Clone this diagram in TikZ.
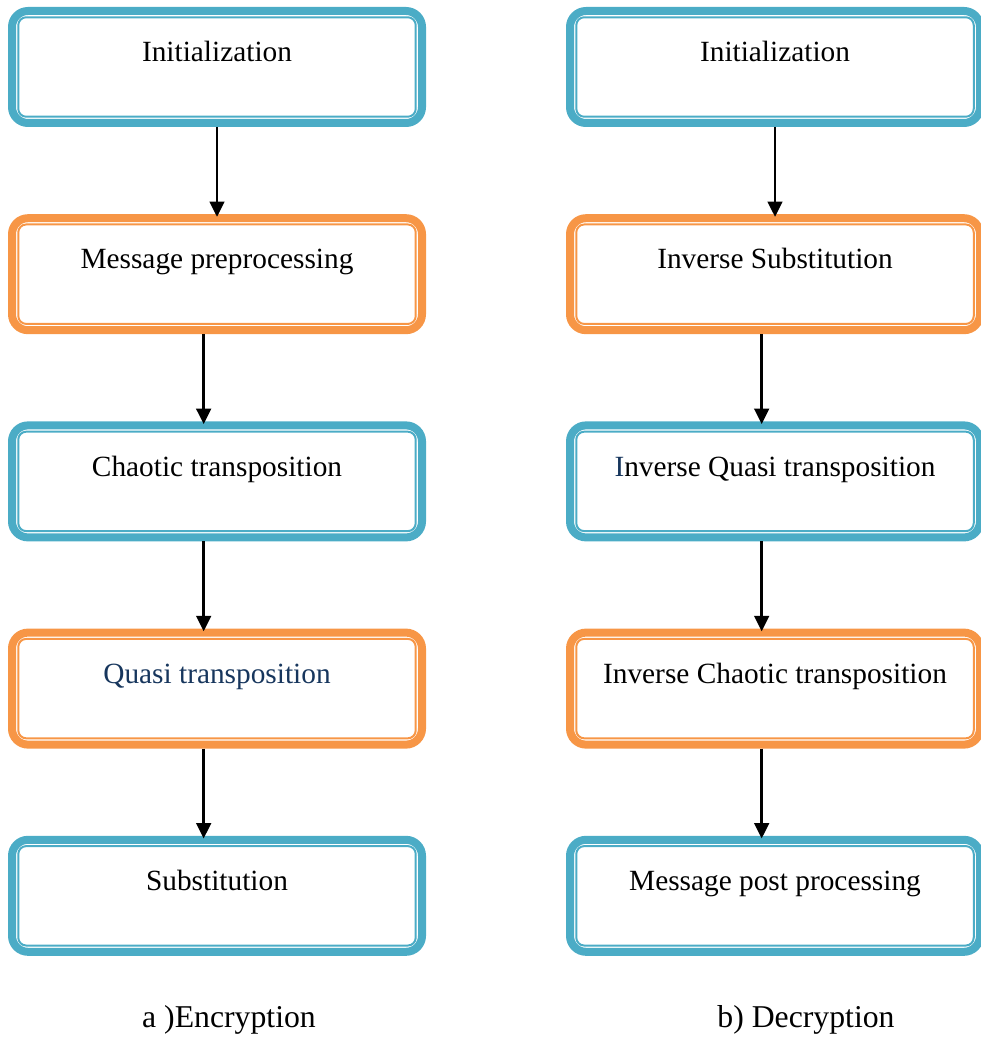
\documentclass[tikz,border=0pt]{standalone}
\usepackage{fontspec}
\setmainfont{Liberation Serif}
\usetikzlibrary{arrows.meta}
\definecolor{stageblue}{HTML}{4BACC6}
\definecolor{stageorange}{HTML}{F79646}
\definecolor{textnavy}{HTML}{17365D}
\tikzset{
  stage/.style={rectangle, rounded corners=12pt, draw=#1, line width=6pt,
    minimum width=307.5pt, minimum height=84pt, inner sep=0pt,
    text height=15pt, text depth=23pt,
    font=\fontsize{22pt}{26pt}\selectfont,
    append after command={\pgfextra{%
      \draw[draw=#1, line width=1.5pt, rounded corners=6pt]
        ([shift={(7.7pt,7.7pt)}]\tikzlastnode.south west) rectangle
        ([shift={(-7.7pt,-7.7pt)}]\tikzlastnode.north east);}}},
  flow/.style={line width=1.9pt, -{Triangle[width=11pt,length=11.5pt]}, shorten >=-2pt},
  caption/.style={font=\fontsize{23.8pt}{28pt}\selectfont},
}
\begin{document}
\begin{tikzpicture}[x=0.75pt, y=-0.75pt]
  \useasboundingbox (0,0) rectangle (980,1037);
  % a) encryption
  \node[stage=stageblue] (e1) at (217,67) {Initialization};
  \node[stage=stageorange] (e2) at (217,274.2) {Message preprocessing};
  \node[stage=stageblue] (e3) at (217,481.4) {Chaotic transposition};
  \node[stage=stageorange] (e4) at (217,688.6) {\color{textnavy}Quasi transposition};
  \node[stage=stageblue] (e5) at (217,895.8) {Substitution};
  % b) decryption
  \node[stage=stageblue] (d1) at (775,67) {Initialization};
  \node[stage=stageorange] (d2) at (775,274.2) {Inverse Substitution};
  \node[stage=stageblue] (d3) at (775,481.4) {{\color{textnavy}I}nverse Quasi transposition};
  \node[stage=stageorange] (d4) at (775,688.6) {Inverse Chaotic transposition};
  \node[stage=stageblue] (d5) at (775,895.8) {Message post processing};
  % arrows
  \draw[flow] (e1) -- (e2);
  \draw[flow] (d1) -- (d2);
  \foreach \a/\b in {e2/e3, e3/e4, e4/e5, d2/d3, d3/d4, d4/d5}
    \draw[flow] ([xshift=-10pt]\a.south) -- ([xshift=-10pt]\b.north);
  \node[caption] (enc) at (229,1020) {a )Encryption};
  \node[caption] (dec) at (806,1020) {b) Decryption};
\end{tikzpicture}
\end{document}
